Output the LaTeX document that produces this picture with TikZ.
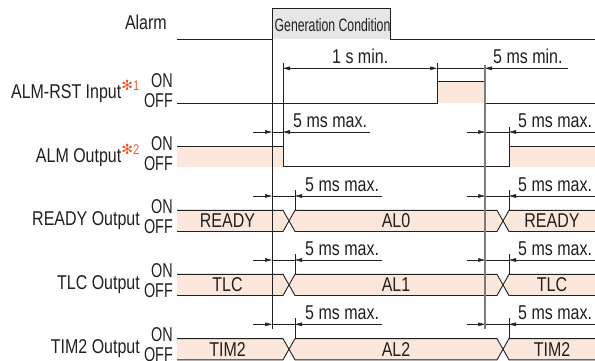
\documentclass[tikz,border=0pt]{standalone}
\usepackage{fontspec}
\setmainfont{Liberation Sans}[FakeStretch=0.8]
\newfontfamily\onofffont{Liberation Sans}[FakeStretch=0.72]
\newfontfamily\gencfont{Liberation Sans}[FakeStretch=0.68]
\newfontfamily\astfont{DejaVu Sans}
\usepackage{tikz}
\usetikzlibrary{arrows.meta}
\usepackage{color}

\definecolor{linecol}{RGB}{35,31,32}
\definecolor{pinkfill}{RGB}{251,231,220}
\definecolor{gencgray}{RGB}{230,230,230}
\definecolor{guidegray}{RGB}{125,125,125}
\definecolor{astred}{RGB}{236,88,44}
\newcommand{\astmark}[1]{{\color{astred}\textsuperscript{{\astfont ✻}#1}}}

\begin{document}
\begin{tikzpicture}[
    x=1pt, y=-1pt,
    lbl/.style={font=\fontsize{20}{22}\selectfont, text=linecol, inner sep=0pt},
    onoff/.style={font=\onofffont\fontsize{20}{22}\selectfont, text=linecol, inner sep=0pt, anchor=base east},
    wave/.style={draw=linecol, line width=0.9pt},
    dimline/.style={draw=linecol, line width=0.5pt},
    dimarrow/.style={dimline, -{Stealth[length=7pt, width=3.6pt, inset=0pt]}},
    extline/.style={draw=linecol, line width=0.6pt},
    guide/.style={draw=guidegray, line width=1.4pt}
]
\useasboundingbox (0,0) rectangle (595,360);

% Alarm
\fill[gencgray] (272,8.3) rectangle (390,39.3);
\draw[wave] (177,39.3) -- (272,39.3);
\draw[wave] (272,39.3) -- (272,8.3) -- (390,8.3) -- (390,39.3) -- (595,39.3);
\node[lbl, anchor=base west, font=\gencfont\fontsize{18}{20}\selectfont] (genc) at (274.5,31) {Generation Condition};
\node[lbl, anchor=base east] (alarm) at (167,29) {Alarm};

% ALM-RST input
\fill[pinkfill] (437,81.7) rectangle (485,103.3);
\draw[wave] (177,103.3) -- (437,103.3) -- (437,81.7) -- (485,81.7) -- (485,103.3) -- (595,103.3);
\node[lbl, anchor=base east] (rstlbl) at (140,98) {ALM-RST Input\astmark{1}};
\node[onoff] (rston) at (173,87) {ON};
\node[onoff] (rstoff) at (173,107) {OFF};
\draw[extline] (437,63) -- (437,81.7);
\draw[dimline, {Stealth[length=7pt, width=3.6pt, inset=0pt]}-{Stealth[length=7pt, width=3.6pt, inset=0pt]}] (283,68.3) -- (437,68.3);
\draw[dimline] (437,68.3) -- (485,68.3);
\draw[dimarrow] (568,68.3) -- (485,68.3);
\node[lbl, anchor=base west] (onesec) at (332,63) {1 s min.};
\node[lbl, anchor=base west] (fivemin) at (493,63) {5 ms min.};

% ALM output
\fill[pinkfill] (177,146.7) rectangle (283,166.7);
\fill[pinkfill] (509,146.7) rectangle (595,166.7);
\draw[wave] (177,146.7) -- (283,146.7) -- (283,166.7) -- (509,166.7) -- (509,146.7) -- (595,146.7);
\node[lbl, anchor=base east] (almlbl) at (140,162) {ALM Output\astmark{2}};
\node[onoff] (almon) at (173,150) {ON};
\node[onoff] (almoff) at (173,170) {OFF};
\draw[extline] (283,63) -- (283,146.7);
\draw[extline] (509,127) -- (509,146.7);
\draw[dimarrow] (253,132) -- (272,132);
\draw[dimline] (272,132) -- (283,132);
\draw[dimarrow] (370,132) -- (283,132);
\node[lbl, anchor=base west] (almdl) at (293,127.5) {5 ms max.};
\draw[dimarrow] (467,132) -- (485,132);
\draw[dimline] (485,132) -- (509,132);
\draw[dimarrow] (595,132) -- (509,132);
\node[lbl, anchor=base west] (almdr) at (518,127.5) {5 ms max.};

% Status outputs
\foreach \on/\nm/\st/\al in {210.3/READY/READY/AL0, 274.3/TLC/TLC/AL1, 338.6/TIM2/TIM2/AL2}{
  \pgfmathsetmacro{\yoff}{\on+21.2}
  \pgfmathsetmacro{\ymid}{\on+10.6}
  \pgfmathsetmacro{\ydim}{\on-14.3}
  \fill[pinkfill] (177,\on) -- (283,\on) -- (289,\ymid) -- (283,\yoff) -- (177,\yoff) -- cycle;
  \fill[pinkfill] (289,\ymid) -- (295,\on) -- (497,\on) -- (503,\ymid) -- (497,\yoff) -- (295,\yoff) -- cycle;
  \fill[pinkfill] (503,\ymid) -- (509,\on) -- (595,\on) -- (595,\yoff) -- (509,\yoff) -- cycle;
  \draw[wave] (177,\on) -- (283,\on) -- (295,\yoff) -- (497,\yoff) -- (509,\on) -- (595,\on);
  \draw[wave] (177,\yoff) -- (283,\yoff) -- (295,\on) -- (497,\on) -- (509,\yoff) -- (595,\yoff);
  \node[lbl, anchor=base] (\nm st) at (227.5,\on+17.5) {\st};
  \node[lbl, anchor=base] (\nm al) at (396,\on+17.5) {\al};
  \node[lbl, anchor=base] (\nm back) at (552,\on+17.5) {\st};
  \node[lbl, anchor=base east] (\nm lbl) at (140,\on+15) {\nm\ Output};
  \node[onoff] (\nm on) at (173,\on+3) {ON};
  \node[onoff] (\nm off) at (173,\on+23) {OFF};
  % delays
  \draw[dimarrow] (253,\ydim) -- (272,\ydim);
  \draw[dimline] (272,\ydim) -- (295,\ydim);
  \draw[dimarrow] (382,\ydim) -- (295,\ydim);
  \draw[extline] (295,\ydim-6) -- (295,\on);
  \node[lbl, anchor=base west] (\nm dl) at (305,\ydim-5) {5 ms max.};
  \draw[dimarrow] (467,\ydim) -- (485,\ydim);
  \draw[dimline] (485,\ydim) -- (509,\ydim);
  \draw[dimarrow] (595,\ydim) -- (509,\ydim);
  \draw[extline] (509,\ydim-6) -- (509,\on);
  \node[lbl, anchor=base west] (\nm dr) at (518,\ydim-5) {5 ms max.};
}

% Guides
\draw[wave] (272,8.3) -- (272,329);
\draw[guide] (485,65) -- (485,329);

\end{tikzpicture}
\end{document}
